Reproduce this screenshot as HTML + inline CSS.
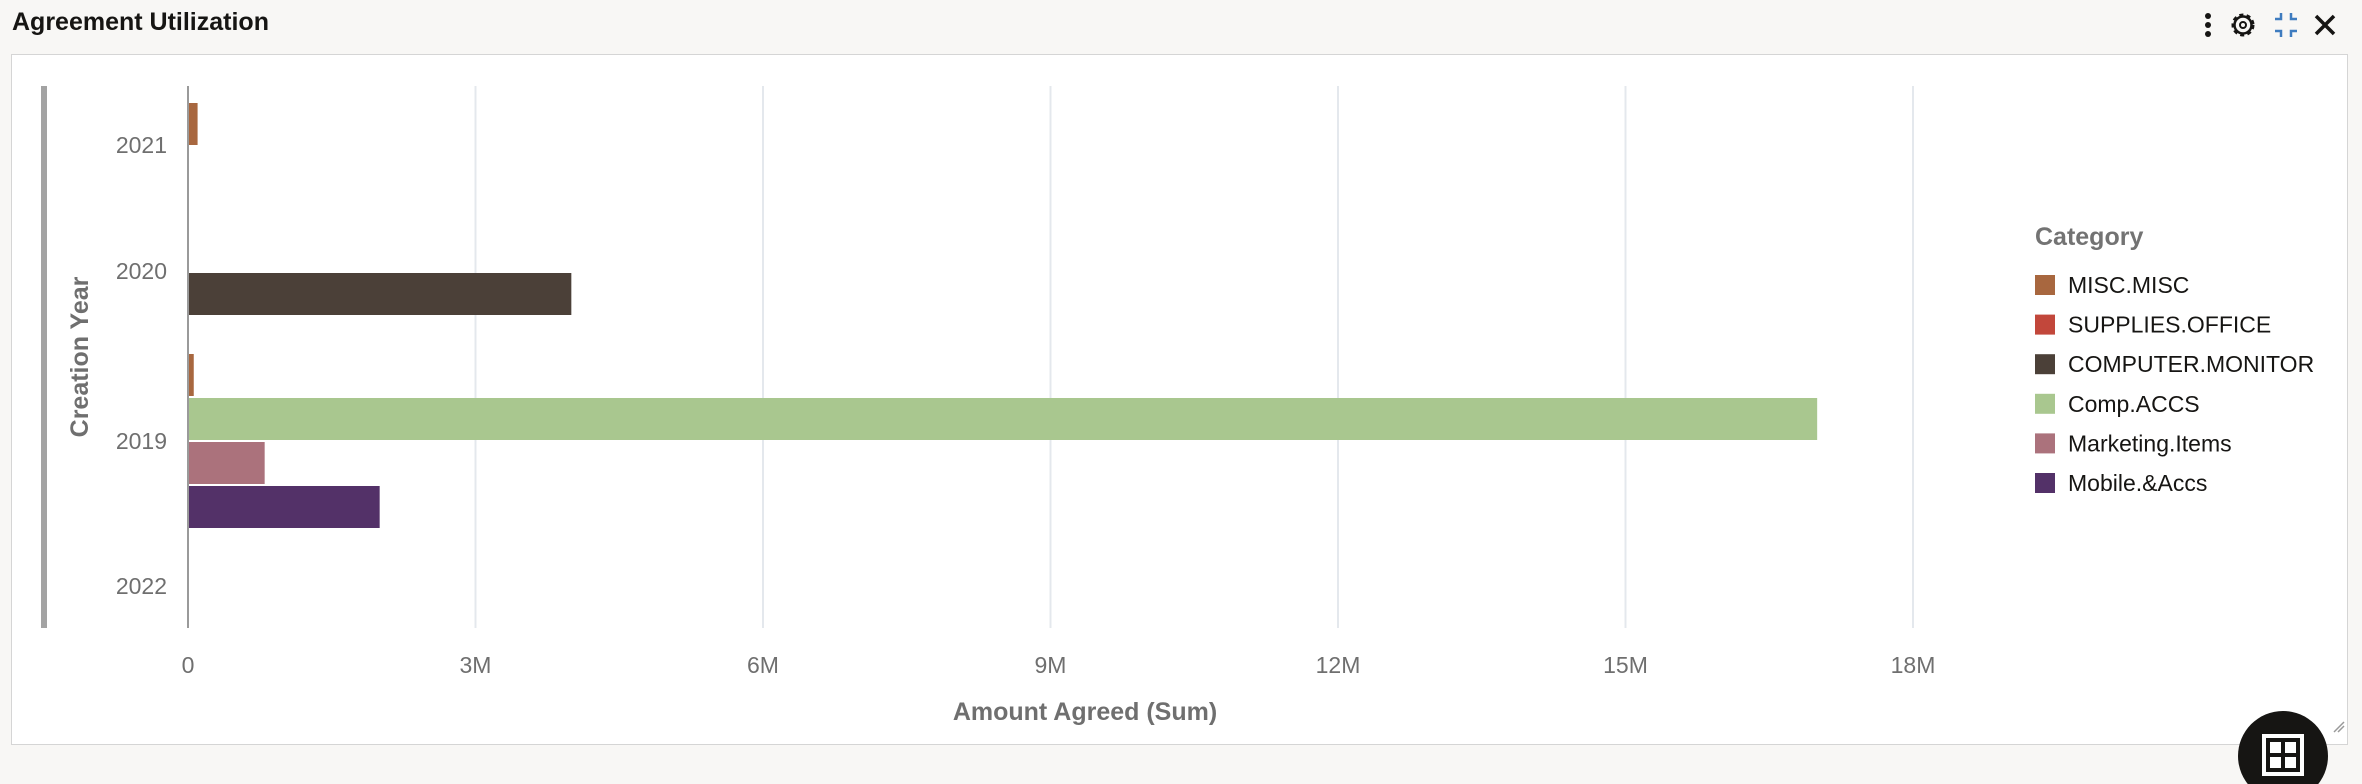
<!DOCTYPE html>
<html><head><meta charset="utf-8">
<style>
html,body{margin:0;padding:0;width:2362px;height:784px;overflow:hidden;background:#f8f7f5;font-family:"Liberation Sans",sans-serif}
#title{position:absolute;left:12px;top:8px;font-size:25px;font-weight:bold;color:#161513}
#panel{position:absolute;left:11px;top:54px;width:2335px;height:689px;background:#fff;border:1.5px solid #d5d5d5}
svg{position:absolute;left:0;top:0}
</style></head><body>
<div id="title">Agreement Utilization</div>
<div id="panel"></div>
<svg id="chart" width="2362" height="784">
  <g id="grid"></g>
  <g id="bars"></g>
  <g id="axes"></g>
  <g id="legend"></g>
  <g fill="#161513">
    <circle cx="2208" cy="16" r="3"/><circle cx="2208" cy="25" r="3"/><circle cx="2208" cy="34" r="3"/>
  </g>
  <g transform="translate(2243,25)">
    <circle r="10" fill="none" stroke="#161513" stroke-width="3" stroke-dasharray="4 3.2"/>
    <circle r="8.5" fill="none" stroke="#161513" stroke-width="2.5"/>
    <circle r="3" fill="none" stroke="#161513" stroke-width="2"/>
  </g>
  <g stroke="#3f7cbf" stroke-width="2.5" fill="none">
    <path d="M2275 19h6v-6"/><path d="M2291 13v6h6"/><path d="M2275 31h6v6"/><path d="M2291 37v-6h6"/>
  </g>
  <g stroke="#161513" stroke-width="3.5">
    <line x1="2316" y1="16" x2="2334" y2="34"/><line x1="2334" y1="16" x2="2316" y2="34"/>
  </g>
  <g stroke="#999" stroke-width="1.5">
    <line x1="2334" y1="732" x2="2344" y2="722"/><line x1="2338" y1="732" x2="2344" y2="726"/>
  </g>
  <g>
    <circle cx="2283" cy="756" r="45" fill="#161513"/>
    <rect x="2264" y="736" width="38" height="38" fill="none" stroke="#fff" stroke-width="4"/>
    <rect x="2270" y="742" width="26" height="26" fill="#fff"/>
    <line x1="2283" y1="742" x2="2283" y2="768" stroke="#161513" stroke-width="4"/>
    <line x1="2270" y1="755" x2="2296" y2="755" stroke="#161513" stroke-width="4"/>
  </g>
</svg>
<script>
const categories = ["2021","2020","2019","2022"];
const seriesNames = ["MISC.MISC","SUPPLIES.OFFICE","COMPUTER.MONITOR","Comp.ACCS","Marketing.Items","Mobile.&Accs"];
const seriesColors = ["#a8673f","#c2473b","#4b4038","#a9c78f","#ab727c","#533168"];
const miscValues      = [0.1, 0, 0.06, 0];
const suppliesValues  = [0, 0, 0, 0];
const monitorValues   = [0, 4.0, 0, 0];
const compAccsValues  = [0, 0, 17.0, 0];
const marketingValues = [0, 0, 0.8, 0];
const mobileValues    = [0, 0, 2.0, 0];
const xTicks = [0,3,6,9,12,15,18];
const xTickLabels = ["0","3M","6M","9M","12M","15M","18M"];

const seriesValues=[miscValues,suppliesValues,monitorValues,compAccsValues,marketingValues,mobileValues];
const X0=188, XMAX=18, X1=1913, PT=86, PB=628;
const groupCenter=[124,294,441,586], labelY=[145,271,441,586], BAR=44;
const x=v=>X0+(v/XMAX)*(X1-X0);
const NS="http://www.w3.org/2000/svg";
function mk(tag,attrs,parent){const e=document.createElementNS(NS,tag);for(const k in attrs)e.setAttribute(k,attrs[k]);parent.appendChild(e);return e;}
const grid=document.getElementById('grid'),bars=document.getElementById('bars'),axes=document.getElementById('axes'),legend=document.getElementById('legend');

xTicks.forEach((t,i)=>{
  if(t>0){const l=mk('line',{x1:x(t),x2:x(t),y1:PT,y2:PB,stroke:'#e4e8ed','stroke-width':2},grid);
  
  }
  const tx=mk('text',{x:x(t),y:673,'text-anchor':'middle','font-size':23,fill:'#6f6f6f'},axes);
  tx.textContent=xTickLabels[i];
  
  
});

categories.forEach((c,ci)=>{
  const present=[];
  seriesValues.forEach((arr,si)=>{if(arr[ci]>0)present.push(si);});
  const top=groupCenter[ci]-present.length*BAR/2;
  present.forEach((si,k)=>{
    const v=seriesValues[si][ci];
    const r=mk('rect',{x:X0,y:top+k*BAR+1,width:x(v)-X0,height:BAR-2,fill:seriesColors[si]},bars);
    
    
  });
  const t=mk('text',{x:167,y:labelY[ci]+8,'text-anchor':'end','font-size':23,fill:'#6f6f6f'},axes);
  t.textContent=c;
  
  
});

const ax=mk('line',{x1:X0,x2:X0,y1:PT,y2:PB,stroke:'#9a9a9a','stroke-width':2},axes);


const gb=mk('rect',{x:41,y:PT,width:6,height:PB-PT,fill:'#a3a3a3'},axes);


const yt=mk('text',{x:0,y:0,'text-anchor':'middle','font-size':25,'font-weight':'bold',fill:'#6f6f6f',transform:'translate(88,357) rotate(-90)'},axes);
yt.textContent='Creation Year';


const xt=mk('text',{x:1085,y:720,'text-anchor':'middle','font-size':25,'font-weight':'bold',fill:'#6f6f6f'},axes);
xt.textContent='Amount Agreed (Sum)';



const lt=mk('text',{x:2035,y:245,'font-size':25,'font-weight':'bold',fill:'#737373'},legend);
lt.textContent='Category';


seriesNames.forEach((n,i)=>{
  const y=285+i*39.6;
  const g=mk('g',{},legend);
  
  
  mk('rect',{x:2035,y:y-10,width:20,height:20,fill:seriesColors[i]},g);
  const t=mk('text',{x:2068,y:y+8,'font-size':23,fill:'#161513'},g);
  t.textContent=n;
});
</script>
</body></html>
